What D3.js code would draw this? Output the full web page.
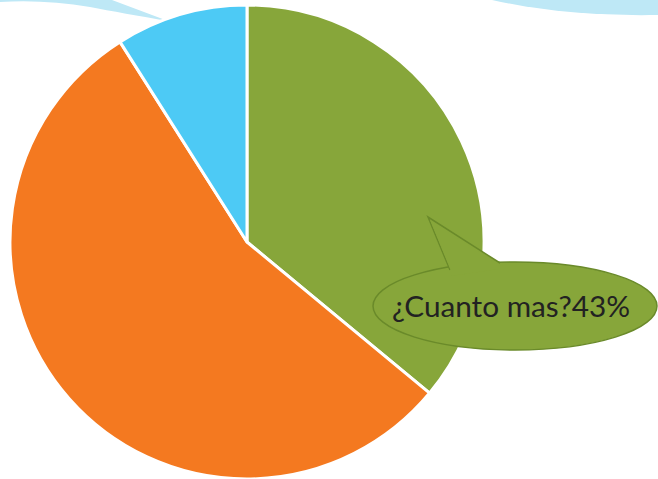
<!DOCTYPE html>
<html>
<head>
<meta charset="utf-8">
<script src="https://cdn.jsdelivr.net/npm/d3@7"></script>
<style>
  body { margin: 0; background: #fff; }
  svg { display: block; }
</style>
</head>
<body>
<svg id="chart" width="658" height="479"></svg>
<script>
// slice data (clockwise from 12 o'clock)
const categories = ["A", "B", "C"];
const values = [36, 55, 9];
const colors = ["#87A63A", "#F47920", "#4DCAF5"];
const calloutText = "¿Cuanto mas?43%";

const svg = d3.select("#chart");
const cx = 247, cy = 242, R = 237;

// light blue decorative swooshes in the background
svg.append("path")
  .attr("d", "M0,0 L112,0 L168,21 C140,16 110,11 90,7 C60,2 30,0 0,2 Z")
  .attr("fill", "#BEE8F6");
svg.append("path")
  .attr("d", "M492,0 L658,0 L658,15 C600,16 545,12 492,0 Z")
  .attr("fill", "#BEE8F6");

const pie = d3.pie().sort(null).value(d => d)(values);
const arc = d3.arc().innerRadius(0).outerRadius(R);

const g = svg.append("g").attr("transform", `translate(${cx},${cy})`);
g.selectAll("path.slice").data(pie)
  .join("path")
  .attr("class", "slice")
  .attr("d", arc)
  .attr("fill", (d, i) => colors[i])
  .attr("stroke", "#fff")
  .attr("stroke-width", 3)
  .attr("stroke-linejoin", "round");

// speech-bubble callout
const ex = 515, ey = 306, rx = 142, ry = 44;
const tip = [428, 217];
const a1 = [450, 270], a2 = [500, 263];
const bubble = svg.append("g");
bubble.append("ellipse")
  .attr("cx", ex).attr("cy", ey).attr("rx", rx).attr("ry", ry)
  .attr("fill", "#87A63A").attr("stroke", "#6A8A2A").attr("stroke-width", 1.5);
bubble.append("path")
  .attr("d", `M${a1[0]},${a1[1]} L${tip[0]},${tip[1]} L${a2[0]},${a2[1]}`)
  .attr("fill", "#87A63A").attr("stroke", "#6A8A2A").attr("stroke-width", 1.5)
  .attr("stroke-linejoin", "miter");
// cover the ellipse outline under the tail joint
bubble.append("path")
  .attr("d", `M${a1[0] + 1},${a1[1] + 1} L${tip[0] + 2},${tip[1] + 3} L${a2[0] - 2},${a2[1] + 1} L${a2[0] - 2},${a2[1] + 6} L${a1[0] + 1},${a1[1] + 6} Z`)
  .attr("fill", "#87A63A");

bubble.append("text")
  .attr("x", 511).attr("y", 306)
  .attr("text-anchor", "middle")
  .attr("dominant-baseline", "central")
  .attr("font-family", "Lato, sans-serif")
  .attr("font-size", 28)
  .attr("fill", "#222")
  .attr("textLength", 238)
  .attr("lengthAdjust", "spacingAndGlyphs")
  .text(calloutText);
</script>
</body>
</html>
